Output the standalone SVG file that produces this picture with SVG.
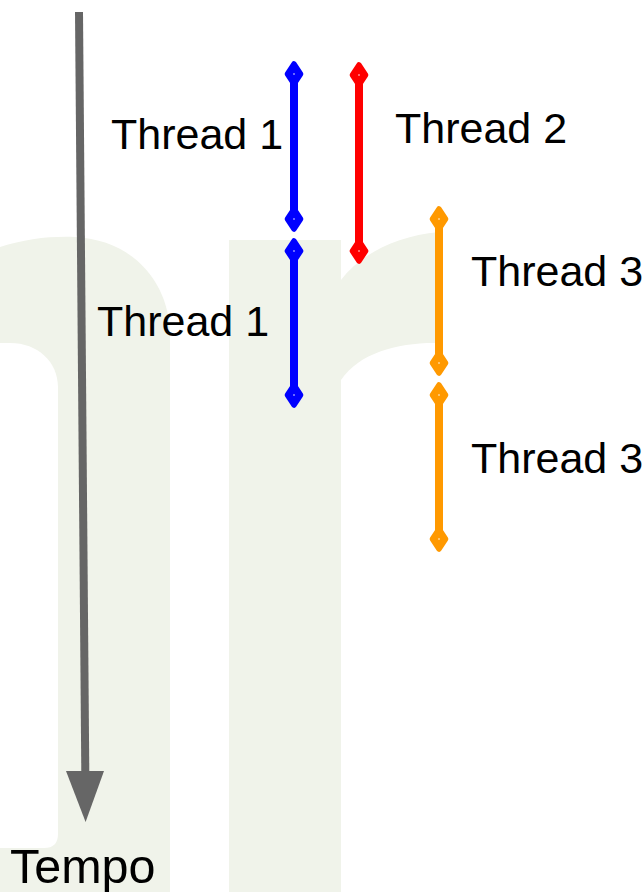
<svg xmlns="http://www.w3.org/2000/svg" xmlns:xlink="http://www.w3.org/1999/xlink" width="644" height="892" viewBox="0 0 644 892">
  <style>
    .lbl { font-family: "Liberation Sans", Arial, sans-serif; font-size: 43px; fill: #000; }
    .tempo { font-family: "Liberation Sans", Arial, sans-serif; font-size: 48.5px; fill: #000; }
    .wm { fill: #f0f3ea; }
    .bar { stroke-width: 8; stroke-linecap: butt; fill: none; }
    .blue { stroke: #0000ff; }
    .red { stroke: #ff0000; }
    .orange { stroke: #ff9900; }
    .d { stroke-width: 5.5; stroke-linejoin: round; }
    .d.blue { fill: #0000ff; }
    .d.red { fill: #ff0000; }
    .d.orange { fill: #ff9900; }
    .dot { fill: #ffffff; fill-opacity: 0.55; }
  </style>
  <defs>
    <path id="dia" d="M0,-10 L6.6,0 L0,10 L-6.6,0 Z"/>
  </defs>
  <rect width="644" height="892" fill="#ffffff"/>

  <g id="watermark">
    <path class="wm" d="M0,247 C25,239 50,236 75,237 C135,240 170,285 170,335 L170,892 L0,892 L0,848 L44,848 Q58,848 58,834 L58,387 C58,362 38,343 10,343 L0,343 Z"/>
    <rect class="wm" x="229" y="240" width="112" height="652"/>
    <path class="wm" d="M341,280 C360,255 395,236 439,232 L439,343 C400,342 360,352 341,380 Z"/>
  </g>

  <g id="connectors">
    <g id="time-axis">
      <line x1="79" y1="12" x2="85.3" y2="772" stroke="#666666" stroke-width="8"/>
      <polygon points="66,771 104,771 85.6,822" fill="#666666"/>
    </g>
  </g>

  <g id="thread1-a">
    <line class="bar blue" x1="294" y1="74" x2="294" y2="219"/>
    <use xlink:href="#dia" href="#dia" class="d blue" x="294" y="74"/>
    <use xlink:href="#dia" href="#dia" class="d blue" x="294" y="219"/>
    <circle class="dot" cx="294" cy="74" r="1"/>
    <circle class="dot" cx="294" cy="219" r="1"/>
    <text class="lbl" x="111" y="149">Thread 1</text>
  </g>

  <g id="thread2">
    <line class="bar red" x1="359" y1="75" x2="359" y2="251"/>
    <use xlink:href="#dia" href="#dia" class="d red" x="359" y="75"/>
    <use xlink:href="#dia" href="#dia" class="d red" x="359" y="251"/>
    <circle class="dot" cx="359" cy="75" r="1"/>
    <circle class="dot" cx="359" cy="251" r="1"/>
    <text class="lbl" x="395" y="143">Thread 2</text>
  </g>

  <g id="thread1-b">
    <line class="bar blue" x1="294" y1="251" x2="294" y2="395"/>
    <use xlink:href="#dia" href="#dia" class="d blue" x="294" y="251"/>
    <use xlink:href="#dia" href="#dia" class="d blue" x="294" y="395"/>
    <circle class="dot" cx="294" cy="251" r="1"/>
    <circle class="dot" cx="294" cy="395" r="1"/>
    <text class="lbl" x="97" y="336">Thread 1</text>
  </g>

  <g id="thread3-a">
    <line class="bar orange" x1="439" y1="219" x2="439" y2="363"/>
    <use xlink:href="#dia" href="#dia" class="d orange" x="439" y="219"/>
    <use xlink:href="#dia" href="#dia" class="d orange" x="439" y="363"/>
    <circle class="dot" cx="439" cy="219" r="1"/>
    <circle class="dot" cx="439" cy="363" r="1"/>
    <text class="lbl" x="471" y="286">Thread 3</text>
  </g>

  <g id="thread3-b">
    <line class="bar orange" x1="439" y1="395" x2="439" y2="539"/>
    <use xlink:href="#dia" href="#dia" class="d orange" x="439" y="395"/>
    <use xlink:href="#dia" href="#dia" class="d orange" x="439" y="539"/>
    <circle class="dot" cx="439" cy="395" r="1"/>
    <circle class="dot" cx="439" cy="539" r="1"/>
    <text class="lbl" x="471" y="473">Thread 3</text>
  </g>

  <g id="tempo">
    <text class="tempo" x="10" y="883">Tempo</text>
  </g>
</svg>
